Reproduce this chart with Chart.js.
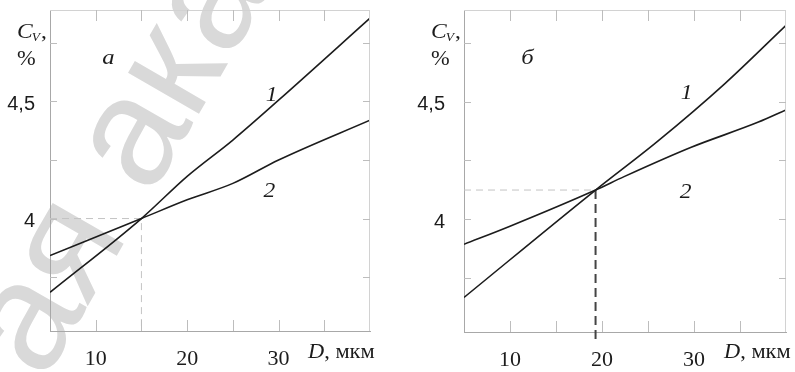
<!DOCTYPE html>
<html>
<head>
<meta charset="utf-8">
<script src="https://cdn.jsdelivr.net/npm/chart.js@4.4.1/dist/chart.umd.min.js"></script>
<style>
  body { margin: 0; background: #fff; }
  #wrap { position: relative; width: 795px; height: 372px; }
  canvas { position: absolute; top: 0; }
</style>
</head>
<body>
<div id="wrap">
  <canvas id="chartA" width="397" height="372" style="left:0"></canvas>
  <canvas id="chartB" width="398" height="372" style="left:397px"></canvas>
</div>
<script>
// axes (D, мкм / C_V, %)
const xMin = 5, xMax = 40
const yMin = 3.52, yMax = 4.89
const xTicks = [10, 15, 20, 25, 30, 35]
const xTickLabels = { 10: '10', 20: '20', 30: '30' }
const yTicks = [3.75, 4, 4.25, 4.5, 4.75]
const yTickLabels = { 4: '4', 4.5: '4,5' }

// panel а
const a1X = [5, 15, 20, 25, 30, 40]
const a1Y = [3.685, 4.0, 4.18, 4.335, 4.505, 4.855]
const a2X = [5, 15, 20, 25, 30, 40]
const a2Y = [3.842, 4.0, 4.08, 4.15, 4.25, 4.42]
const aCross = [15, 4.0]

// panel б
const b1X = [5, 19.3, 26, 33.3, 40]
const b1Y = [3.667, 4.124, 4.33, 4.575, 4.825]
const b2X = [5, 10, 19.3, 22.4, 29.7, 37, 40]
const b2Y = [3.893, 3.97, 4.124, 4.181, 4.306, 4.413, 4.465]
const bCross = [19.3, 4.124]

const pts = (xs, ys) => xs.map((x, i) => ({ x: x, y: ys[i] }))
const serif = '"Liberation Serif", "Times New Roman", serif'
const sans = '"Liberation Sans", Arial, sans-serif'

const curve = (xs, ys) => ({
  data: pts(xs, ys),
  borderColor: '#1c1c1c',
  borderWidth: 1.6,
  pointRadius: 0,
  cubicInterpolationMode: 'monotone',
  order: 1
})

const guide = (data, color, width, dash, clip) => ({
  data: data,
  borderColor: color,
  borderWidth: width,
  borderDash: dash,
  pointRadius: 0,
  clip: clip,
  order: 2
})

// box on top/right + inward ticks
const frame = {
  id: 'frame',
  afterDraw(chart) {
    const { ctx, chartArea: a, scales: { x, y } } = chart
    ctx.save()
    ctx.lineWidth = 1
    ctx.strokeStyle = '#d2d2d2'
    ctx.beginPath()
    ctx.moveTo(a.left, a.top + 0.5); ctx.lineTo(a.right, a.top + 0.5)
    ctx.moveTo(a.right - 0.5, a.top); ctx.lineTo(a.right - 0.5, a.bottom)
    ctx.stroke()
    ctx.strokeStyle = '#bdbdbd'
    ctx.beginPath()
    xTicks.forEach(v => {
      const px = Math.round(x.getPixelForValue(v)) + 0.5
      ctx.moveTo(px, a.bottom); ctx.lineTo(px, a.bottom - 11)
      ctx.moveTo(px, a.top); ctx.lineTo(px, a.top + 11)
    })
    yTicks.forEach(v => {
      const py = Math.round(y.getPixelForValue(v)) + 0.5
      ctx.moveTo(a.left, py); ctx.lineTo(a.left + 7, py)
      ctx.moveTo(a.right, py); ctx.lineTo(a.right - 7, py)
    })
    ctx.stroke()
    ctx.restore()
  }
}

// text a bit wider, like the scan
function wide(ctx, str, x, y, font, align) {
  ctx.save()
  ctx.font = font
  ctx.translate(x, y)
  ctx.scale(1.12, 1)
  ctx.textAlign = align || 'left'
  ctx.fillText(str, 0, 0)
  const w = ctx.measureText(str).width * 1.12
  ctx.restore()
  return w
}

// axis names, panel letter, curve numbers
const notes = {
  id: 'notes',
  afterDraw(chart, args, opts) {
    const { ctx, chartArea: a, scales: { x, y } } = chart
    ctx.save()
    ctx.fillStyle = '#1c1c1c'
    ctx.textBaseline = 'alphabetic'
    let cx = a.left - 33
    cx += wide(ctx, 'C', cx, 38, 'italic 21px ' + serif)
    cx += wide(ctx, 'V', cx - 1, 41, 'italic 12px ' + serif)
    wide(ctx, ',', cx, 38, '21px ' + serif)
    wide(ctx, '%', a.left - 33, 65, '20px ' + serif)

    let dx = a.right - 62
    dx += wide(ctx, 'D', dx, 358, 'italic 20px ' + serif)
    wide(ctx, ', мкм', dx, 358, '20px ' + serif)

    wide(ctx, opts.letter[0], x.getPixelForValue(opts.letter[1]), y.getPixelForValue(opts.letter[2]), 'italic 22px ' + serif, 'center')
    opts.marks.forEach(m => wide(ctx, m[0], x.getPixelForValue(m[1]), y.getPixelForValue(m[2]), 'italic 21px ' + serif, 'center'))
    ctx.restore()
  }
}

const watermark = {
  id: 'watermark',
  beforeDraw(chart) {
    const ctx = chart.ctx
    ctx.save()
    ctx.fillStyle = '#d9d9d9'
    ctx.font = '155px ' + sans
    ctx.translate(44, 382)
    ctx.rotate(-60 * Math.PI / 180)
    ctx.fillText('ая ака', 0, 0)
    ctx.restore()
  }
}

function makeChart(id, datasets, yWidth, xHeight, padRight, labelPad, notesOpts, extra) {
  return new Chart(document.getElementById(id), {
    type: 'line',
    data: { datasets: datasets },
    options: {
      responsive: false,
      animation: false,
      layout: { padding: { top: 10, right: padRight, left: 0, bottom: 0 } },
      plugins: { legend: { display: false }, tooltip: { enabled: false }, notes: notesOpts },
      scales: {
        x: {
          type: 'linear', min: xMin, max: xMax,
          grid: { display: false },
          border: { display: true, color: '#a8a8a8', width: 1 },
          afterBuildTicks: s => { s.ticks = xTicks.map(v => ({ value: v })) },
          afterFit: s => { s.height = xHeight; s.paddingLeft = 0; s.paddingRight = 0 },
          ticks: {
            autoSkip: false, maxRotation: 0, padding: 7, color: '#1c1c1c',
            font: { family: serif, size: 22 },
            callback: v => xTickLabels[v] || ''
          }
        },
        y: {
          type: 'linear', min: yMin, max: yMax,
          grid: { display: false },
          border: { display: true, color: '#a8a8a8', width: 1 },
          afterBuildTicks: s => { s.ticks = yTicks.map(v => ({ value: v })) },
          afterFit: s => { s.width = yWidth; s.paddingTop = 0; s.paddingBottom = 0 },
          ticks: {
            autoSkip: false, padding: labelPad, labelOffset: 3, color: '#1c1c1c',
            font: { family: sans, size: 20 },
            callback: v => yTickLabels[v] || ''
          }
        }
      }
    },
    plugins: [frame, notes].concat(extra)
  })
}

makeChart('chartA', [
  curve(a1X, a1Y),
  curve(a2X, a2Y),
  guide([{ x: xMin, y: aCross[1] }, { x: aCross[0], y: aCross[1] }, { x: aCross[0], y: yMin }], '#c4c4c4', 1, [7, 5], true)
], 50, 41, 27, 7, {
  letter: ['a', 11.4, 4.66],
  marks: [['1', 29.25, 4.5], ['2', 29.0, 4.09]]
}, [watermark])

makeChart('chartB', [
  curve(b1X, b1Y),
  curve(b2X, b2Y),
  guide([{ x: xMin, y: bCross[1] }, { x: bCross[0], y: bCross[1] }], '#c4c4c4', 1, [7, 5], true),
  guide([{ x: bCross[0], y: bCross[1] }, { x: bCross[0], y: 3.475 }], '#444', 2, [9, 5], false)
], 67, 40, 9, 11, {
  letter: ['б', 11.9, 4.66],
  marks: [['1', 29.2, 4.51], ['2', 29.1, 4.09]]
}, [])
</script>
</body>
</html>
